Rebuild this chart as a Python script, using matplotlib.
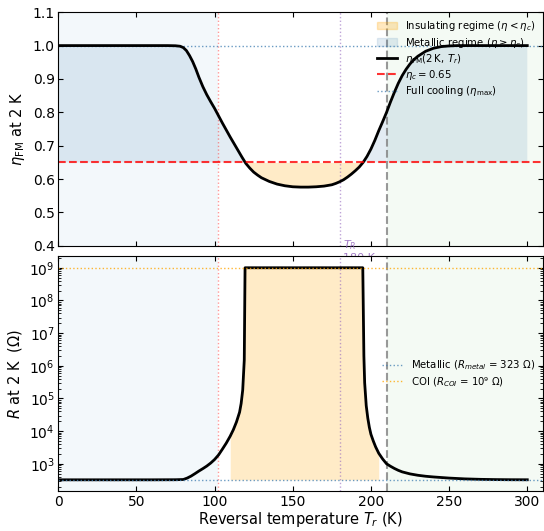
import numpy as np
from matplotlib import pyplot as plt
from matplotlib.patches import Patch

# reversal temperature grid (K) and eta_FM at 2 K
T_eta = [0, 10, 20, 30, 40, 50, 60, 70, 75, 78, 80, 82, 84, 86, 88, 90, 92.5,
         95, 97.5, 100, 102.5, 105, 107.5, 110, 112.5, 115, 117.5, 120, 122.5,
         125, 127.5, 130, 135, 140, 145, 150, 155, 160, 165, 170, 175, 177.5,
         180, 182.5, 185, 187.5, 190, 192.5, 195, 197.5, 200, 202.5, 205, 207.5,
         210, 212.5, 215, 217.5, 220, 222.5, 225, 227.5, 230, 235, 240, 245,
         250, 255, 260, 270, 280, 290, 300]
eta = [1.0, 1.0, 1.0, 1.0, 1.0, 1.0, 1.0, 1.0, 0.9995, 0.998, 0.994, 0.985,
       0.97, 0.952, 0.93, 0.905, 0.877, 0.853, 0.832, 0.812, 0.79, 0.768, 0.747,
       0.726, 0.706, 0.686, 0.666, 0.647, 0.633, 0.621, 0.612, 0.604, 0.593,
       0.585, 0.580, 0.577, 0.576, 0.576, 0.577, 0.579, 0.583, 0.587, 0.592,
       0.598, 0.606, 0.615, 0.625, 0.636, 0.650, 0.668, 0.690, 0.716, 0.745,
       0.772, 0.800, 0.831, 0.860, 0.887, 0.910, 0.929, 0.945, 0.958, 0.968,
       0.983, 0.992, 0.997, 0.999, 1.0, 1.0, 1.0, 1.0, 1.0, 1.0]

# resistance at 2 K (Ohm)
T_R = [0, 20, 40, 60, 75, 80, 82.5, 85, 87.5, 90, 92.5, 95, 97.5, 100, 102.5,
       105, 107.5, 110, 112, 114, 116, 117, 118, 119, 119.5, 130, 150, 170,
       190, 194.8, 195.5, 196, 197, 198, 199, 200, 201.5, 203, 205, 207.5, 210,
       212.5, 215, 217.5, 220, 225, 230, 235, 240, 250, 260, 270, 280, 290, 300]
R = [323, 323, 323, 323, 325, 330, 365, 420, 500, 600, 710, 850, 1050, 1350,
     1850, 2800, 4300, 7000, 11000, 19000, 38000, 70000, 1.8e5, 1.5e6, 1e9,
     1e9, 1e9, 1e9, 1e9, 1e9, 2e6, 3e5, 6e4, 2.5e4, 1.3e4, 8000, 5000, 3300,
     2100, 1400, 1000, 840, 720, 630, 565, 490, 445, 415, 395, 365, 345, 334,
     328, 325, 324]

eta_c = 0.65
R_metal = 323
R_coi = 1e9
T_low = 102
T_R_mark = 180
T_high = 210

T_eta = np.array(T_eta)
eta = np.array(eta)
T_R = np.array(T_R)
R = np.array(R)

fig = plt.figure(figsize=(5.44, 5.31), dpi=100)
ax1 = fig.add_axes([0.107, 0.537, 0.891, 0.440])
ax2 = fig.add_axes([0.107, 0.075, 0.891, 0.443], sharex=ax1)

orange_c = 'orange'
blue_c = 'steelblue'

for ax in (ax1, ax2):
    ax.axvspan(0, T_low, color='tab:blue', alpha=0.05, lw=0)
    ax.axvspan(T_high, 310, color='tab:green', alpha=0.05, lw=0)
    ax.axvline(T_low, color='red', ls=':', lw=1, alpha=0.4)
    ax.axvline(T_R_mark, color='tab:purple', ls=':', lw=1, alpha=0.6)
    ax.axvline(T_high, color='gray', ls='--', lw=1.5, alpha=0.8)
    ax.tick_params(direction='in', top=True, right=True, labelsize=10, pad=2.5)
    ax.tick_params(which='minor', direction='in', top=True, right=True)

# top panel
ax1.fill_between(T_eta, eta, eta_c, where=eta < eta_c, interpolate=True,
                 color=orange_c, alpha=0.22, lw=0)
ax1.fill_between(T_eta, eta, eta_c, where=eta >= eta_c, interpolate=True,
                 color=blue_c, alpha=0.15, lw=0)
ax1.axhline(1.0, color=blue_c, ls=':', lw=1, alpha=0.8)
ax1.plot(T_eta, eta, color='black', lw=2)
ax1.axhline(eta_c, color='red', ls='--', lw=1.5, alpha=0.8)
ax1.text(T_R_mark + 2, 0.423, '$T_R$\n180 K', color='tab:purple', fontsize=8,
         va='top', ha='left', clip_on=False, alpha=0.85, linespacing=1.1)
ax1.set_ylim(0.4, 1.1)
ax1.set_ylabel(r'$\eta_{\rm FM}$ at 2 K', fontsize=10.5)
ax1.tick_params(labelbottom=False)

handles = [
    Patch(color=orange_c, alpha=0.25, label=r'Insulating regime ($\eta < \eta_c$)'),
    Patch(color=blue_c, alpha=0.15, label=r'Metallic regime ($\eta \geq \eta_c$)'),
    plt.Line2D([], [], color='black', lw=2, label=r'$\eta_{\rm FM}(2\,$K$,\,T_r)$'),
    plt.Line2D([], [], color='red', ls='--', lw=1.5, alpha=0.8, label=r'$\eta_c = 0.65$'),
    plt.Line2D([], [], color=blue_c, ls=':', lw=1, alpha=0.8, label=r'Full cooling ($\eta_{\max}$)'),
]
ax1.legend(handles=handles, loc='upper right', frameon=False, fontsize=7.3,
           borderaxespad=0.3, handlelength=2.0, labelspacing=0.22)

# bottom panel
fill_mask = (T_R >= 109) & (T_R <= 205)
ax2.fill_between(T_R, R_metal, R, where=fill_mask, color=orange_c, alpha=0.22, lw=0)
ax2.plot(T_R, R, color='black', lw=2)
ax2.axhline(R_metal, color=blue_c, ls=':', lw=1, alpha=0.8,
            label=r'Metallic ($R_{metal}$ = 323 Ω)')
ax2.axhline(R_coi, color=orange_c, ls=':', lw=1, alpha=0.8,
            label=r'COI ($R_{COI}$ = 10⁹ Ω)')
ax2.set_yscale('log')
ax2.set_ylim(145, 2.3e9)
ax2.set_xlim(0, 310)
ax2.set_ylabel('$R$ at 2 K  (Ω)', fontsize=10.5)
ax2.set_xlabel('Reversal temperature $T_r$ (K)', fontsize=10.5, labelpad=1)
ax2.legend(loc='center right', frameon=False, fontsize=7.3, borderaxespad=0.4,
           labelspacing=0.3)

fig.savefig('out.png', dpi=100)
